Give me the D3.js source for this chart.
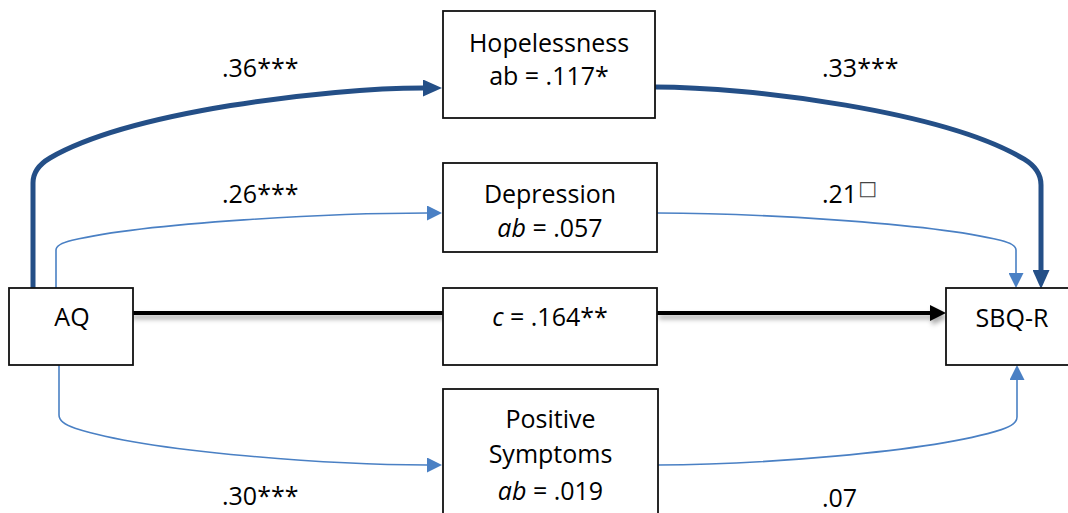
<!DOCTYPE html>
<html><head><meta charset="utf-8">
<script src="https://cdn.jsdelivr.net/npm/d3@7/dist/d3.min.js"></script>
<style>html,body{margin:0;padding:0;background:#fff;overflow:hidden}</style>
</head><body>
<svg id="chart" width="1068" height="513"></svg>
<script>
// ---- data ----
const predictor = "AQ";
const outcome = "SBQ-R";
const mediators = ["Hopelessness", "Depression", "Positive Symptoms"];
const mediatorLines = [["Hopelessness"], ["Depression"], ["Positive", "Symptoms"]];
const aCoef = [".36", ".26", ".30"];
const aSig = ["***", "***", "***"];
const bCoef = [".33", ".21", ".07"];
const bSig = ["***", "\u25A1", ""];
const abValue = [".117", ".057", ".019"];
const abSig = ["*", "", ""];
const abItalic = [false, true, true];
const directCoef = ".164";
const directSig = "**";

// ---- layout ----
const FONT = "'Open Sans', 'Noto Sans', sans-serif";
const FS = 25;
const thickColor = "#244f87", thinColor = "#4a80c4";
const svg = d3.select("#chart");
const defs = svg.append("defs");

function marker(id, L, W, color) {
  defs.append("marker").attr("id", id)
    .attr("viewBox", `0 0 ${L} ${W}`).attr("refX", 0).attr("refY", W / 2)
    .attr("markerWidth", L).attr("markerHeight", W)
    .attr("markerUnits", "userSpaceOnUse").attr("orient", "auto")
    .append("path").attr("d", `M0,0L${L},${W / 2}L0,${W}Z`).attr("fill", color);
}
marker("mThick", 19, 17, thickColor);
marker("mThin", 15, 15, thinColor);
marker("mBlack", 16, 16, "#000");

const f = defs.append("filter").attr("id", "shadow").attr("filterUnits", "userSpaceOnUse")
  .attr("x", 0).attr("y", 280).attr("width", 1068).attr("height", 70);
f.append("feDropShadow").attr("dx", 2).attr("dy", 4).attr("stdDeviation", 2.5)
  .attr("flood-color", "#000").attr("flood-opacity", 0.35);

const boxStyle = s => s.attr("fill", "#fff").attr("stroke", "#111").attr("stroke-width", 1.8);

const aqBox = {x: 9, y: 288, w: 124, h: 77};
const sbqBox = {x: 946, y: 288, w: 132, h: 77};
const cBox = {x: 443, y: 288, w: 214, h: 77};
const medBoxes = [
  {x: 443, y: 11, w: 212, h: 107, base: [52, 85]},
  {x: 443, y: 163, w: 214, h: 89, base: [203, 237]},
  {x: 443, y: 389, w: 215, h: 140, base: [428, 463, 500]}
];
// left (a) and right (b) connector geometry
const leftGeo = [
  {xv: 33, y0: 288, yc: 183, xh: 423, yh: 88},
  {xv: 56, y0: 288, yc: 250, xh: 427, yh: 213},
  {xv: 59, y0: 365, yc: 415, xh: 427, yh: 465}
];
const rightGeo = [
  {xv: 1041, y0: 270, yc: 185, xh: 655, yh: 87},
  {xv: 1016, y0: 273, yc: 250, xh: 657, yh: 213},
  {xv: 1017, y0: 380, yc: 417, xh: 658, yh: 465}
];
const aLabelPos = [{x: 222, y: 77}, {x: 222, y: 203}, {x: 222, y: 505}];
const bLabelPos = [{x: 822, y: 77}, {x: 822, y: 203}, {x: 822, y: 507}];

function geoPts(g) {
  const dx = g.xh - g.xv, dy = g.yh - g.yc;
  return {
    qc: [g.xv, g.yc + 0.158 * dy],
    ce: [g.xv + 0.0436 * dx, g.yc + 0.263 * dy],
    p1: [g.xv + 0.249 * dx, g.yc + 0.752 * dy],
    p2: [g.xv + 0.754 * dx, g.yh]
  };
}
function forwardPath(g) { // vertical start -> horizontal end
  const p = geoPts(g), d = d3.path();
  d.moveTo(g.xv, g.y0); d.lineTo(g.xv, g.yc);
  d.quadraticCurveTo(p.qc[0], p.qc[1], p.ce[0], p.ce[1]);
  d.bezierCurveTo(p.p1[0], p.p1[1], p.p2[0], p.p2[1], g.xh, g.yh);
  return d.toString();
}
function reversePath(g) { // horizontal start -> vertical end
  const p = geoPts(g), d = d3.path();
  d.moveTo(g.xh, g.yh);
  d.bezierCurveTo(p.p2[0], p.p2[1], p.p1[0], p.p1[1], p.ce[0], p.ce[1]);
  d.quadraticCurveTo(p.qc[0], p.qc[1], g.xv, g.yc);
  d.lineTo(g.xv, g.y0);
  return d.toString();
}

// connectors
const medIdx = d3.range(mediators.length);
const sig = i => abSig[i] !== "";
svg.append("g").selectAll("path.a").data(medIdx).join("path")
  .attr("d", i => forwardPath(leftGeo[i])).attr("fill", "none")
  .attr("stroke", i => sig(i) ? thickColor : thinColor)
  .attr("stroke-width", i => sig(i) ? 5 : 1.6)
  .attr("marker-end", i => sig(i) ? "url(#mThick)" : "url(#mThin)");
svg.append("g").selectAll("path.b").data(medIdx).join("path")
  .attr("d", i => reversePath(rightGeo[i])).attr("fill", "none")
  .attr("stroke", i => sig(i) ? thickColor : thinColor)
  .attr("stroke-width", i => sig(i) ? 5 : 1.6)
  .attr("marker-end", i => sig(i) ? "url(#mThick)" : "url(#mThin)");

// direct path
const dg = svg.append("g").attr("filter", "url(#shadow)");
dg.append("path").attr("d", d3.line()([[130, 313], [cBox.x, 313]]))
  .attr("stroke", "#000").attr("stroke-width", 4.2).attr("fill", "none");
dg.append("path").attr("d", d3.line()([[cBox.x + cBox.w, 313], [sbqBox.x - 16, 313]]))
  .attr("stroke", "#000").attr("stroke-width", 4.2).attr("fill", "none")
  .attr("marker-end", "url(#mBlack)");

// boxes
[aqBox, sbqBox, cBox].concat(medBoxes).forEach(b => {
  svg.append("rect").attr("x", b.x).attr("y", b.y).attr("width", b.w).attr("height", b.h).call(boxStyle);
});

const txt = (x, y, anchor) => svg.append("text").attr("x", x).attr("y", y)
  .attr("text-anchor", anchor || "middle").attr("font-family", FONT).attr("font-size", FS).attr("fill", "#000");

txt(aqBox.x + aqBox.w / 2 + 1, 326).text(predictor);
txt(1012, 327).text(outcome);
const ct = txt(cBox.x + cBox.w / 2, 326);
ct.append("tspan").attr("font-style", "italic").text("c");
ct.append("tspan").text(" = " + directCoef + directSig);

medIdx.forEach(i => {
  const b = medBoxes[i], cx = b.x + b.w / 2;
  mediatorLines[i].forEach((ln, k) => txt(cx, b.base[k]).text(ln));
  const t = txt(cx, b.base[b.base.length - 1]);
  t.append("tspan").attr("font-style", abItalic[i] ? "italic" : "normal").text("ab");
  t.append("tspan").text(" = " + abValue[i] + abSig[i]);

  txt(aLabelPos[i].x, aLabelPos[i].y, "start").text(aCoef[i] + aSig[i]);
  const bt = txt(bLabelPos[i].x, bLabelPos[i].y, "start");
  bt.append("tspan").text(bCoef[i]);
  if (bSig[i] === "\u25A1") {
    bt.append("tspan").attr("font-family", "'DejaVu Sans'").attr("font-size", 20)
      .attr("dy", -8).attr("dx", 1).attr("fill", "#444").text(bSig[i]);
  } else {
    bt.append("tspan").text(bSig[i]);
  }
});
</script>
</body></html>
